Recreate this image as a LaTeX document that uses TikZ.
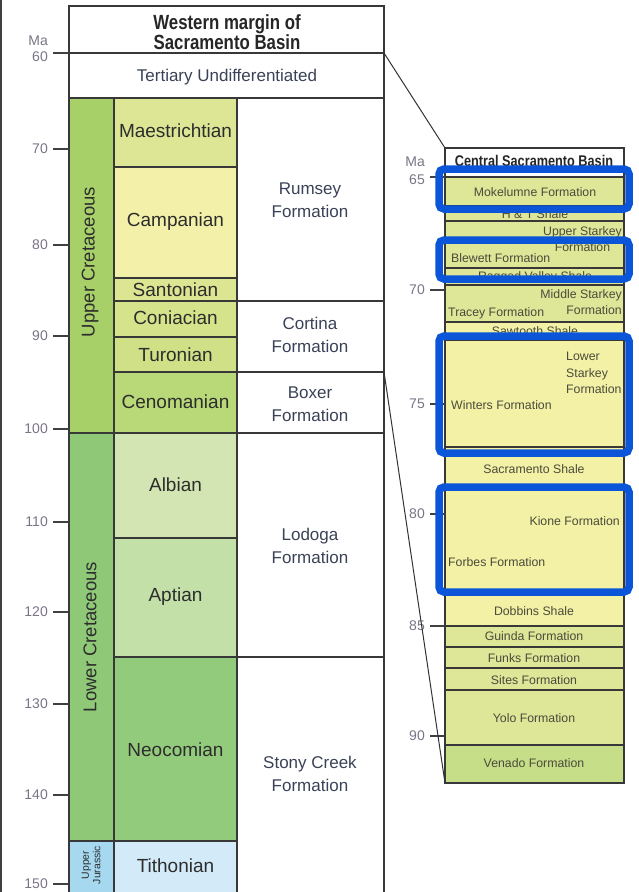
\documentclass[tikz,border=0pt]{standalone}
\usepackage{fontspec}
\setmainfont{Liberation Sans}
\newfontfamily\hdrfont{Liberation Sans}[FakeStretch=0.82]
\definecolor{ucret}{HTML}{A8D068}
\definecolor{lcret}{HTML}{8FC978}
\definecolor{ujur}{HTML}{A6D8F0}
\definecolor{maes}{HTML}{DCE695}
\definecolor{camp}{HTML}{F3F1A9}
\definecolor{sant}{HTML}{DCE591}
\definecolor{coni}{HTML}{D5E38B}
\definecolor{turo}{HTML}{CFE087}
\definecolor{ceno}{HTML}{B9D877}
\definecolor{albi}{HTML}{D2E5B2}
\definecolor{apti}{HTML}{C4E0A9}
\definecolor{neoc}{HTML}{93CB7D}
\definecolor{tith}{HTML}{D3EBF9}
\definecolor{rgy}{HTML}{DEE698}
\definecolor{ryel}{HTML}{F3F1A5}
\definecolor{rven}{HTML}{C6DE88}
\definecolor{hlblue}{HTML}{0A55D8}
\definecolor{tickcol}{HTML}{7A7486}
\definecolor{fmncol}{HTML}{3B4257}
\definecolor{stagecol}{HTML}{2D2D2D}
\definecolor{rcol}{HTML}{4B4B3B}
\newcommand\cellbox[5]{\filldraw[fill=#5, cellline] (#1,#2) rectangle (#3,#4);}
\begin{document}
\begin{tikzpicture}[x=1pt,y=-1pt,
  cellline/.style={draw=black!78, line width=1.1pt},
  tck/.style={draw=black!75, line width=1.2pt},
  tlab/.style={font=\fontsize{14}{14}\selectfont, text=tickcol, anchor=east, inner sep=0},
  hdr/.style={font=\hdrfont\bfseries\fontsize{20.5}{20}\selectfont, align=center, text=black!85, inner sep=0},
  stg/.style={font=\fontsize{19}{22}\selectfont, text=stagecol, inner sep=0},
  fmn/.style={font=\fontsize{17}{22.5}\selectfont, text=fmncol, align=center, inner sep=0},
  era/.style={font=\fontsize{18.5}{20}\selectfont, text=stagecol, rotate=90, inner sep=0},
  erasm/.style={font=\fontsize{10.4}{11.5}\selectfont, text=stagecol, rotate=90, align=center, inner sep=0},
  rlab/.style={font=\fontsize{12.3}{16.5}\selectfont, text=rcol, inner sep=0},
  conn/.style={draw=black!80, line width=1pt},
  hl/.style={draw=hlblue, line width=7.5pt, rounded corners=5pt}]
\useasboundingbox (0,0) rectangle (639,892);
\begin{scope}
\clip (0,0) rectangle (639,892);
\draw[line width=2.5pt, black!75] (1,0) -- (1,892);
% ---------- left column ----------
\cellbox{69}{6}{384}{53}{white}
\cellbox{69}{53}{384}{98}{white}
\cellbox{69}{98}{114}{433}{ucret}
\cellbox{69}{433}{114}{841}{lcret}
\cellbox{69}{841}{114}{900}{ujur}
\cellbox{114}{98}{237}{167}{maes}
\cellbox{114}{167}{237}{278}{camp}
\cellbox{114}{278}{237}{301}{sant}
\cellbox{114}{301}{237}{337}{coni}
\cellbox{114}{337}{237}{372}{turo}
\cellbox{114}{372}{237}{433}{ceno}
\cellbox{114}{433}{237}{538}{albi}
\cellbox{114}{538}{237}{657}{apti}
\cellbox{114}{657}{237}{841}{neoc}
\cellbox{114}{841}{237}{900}{tith}
\cellbox{237}{98}{384}{301}{white}
\cellbox{237}{301}{384}{372}{white}
\cellbox{237}{372}{384}{433}{white}
\cellbox{237}{433}{384}{657}{white}
\cellbox{237}{657}{384}{900}{white}
% left ticks
\foreach \yy in {53,149,245,336,429,522,612,704,795,884}{
  \draw[tck] (53,\yy) -- (69,\yy);}
\node[tlab] (lma) at (48,41) {Ma};
\node[tlab] (l60) at (48,57) {60};
\node[tlab] (l70) at (48,149) {70};
\node[tlab] (l80) at (48,245) {80};
\node[tlab] (l90) at (48,336) {90};
\node[tlab] (l100) at (48,429) {100};
\node[tlab] (l110) at (48,522) {110};
\node[tlab] (l120) at (48,612) {120};
\node[tlab] (l130) at (48,704) {130};
\node[tlab] (l140) at (48,795) {140};
\node[tlab] (l150) at (48,884) {150};
% left texts
\node[hdr] (hW) at (227,32) {Western margin of\\Sacramento Basin};
\node[fmn] (tert) at (227,77) {Tertiary Undifferentiated};
\node[era] (uc) at (90,262) {Upper Cretaceous};
\node[era] (lc) at (90,637) {Lower Cretaceous};
\node[erasm] (uj) at (91,865) {Upper\\Jurassic};
\node[stg] (s1) at (175.5,131) {Maestrichtian};
\node[stg] (s2) at (175.5,222) {Campanian};
\node[stg] (s3) at (175.5,290) {Santonian};
\node[stg] (s4) at (175.5,318) {Coniacian};
\node[stg] (s5) at (175.5,355) {Turonian};
\node[stg] (s6) at (175.5,402) {Cenomanian};
\node[stg] (s7) at (175.5,485) {Albian};
\node[stg] (s8) at (175.5,597) {Aptian};
\node[stg] (s9) at (175.5,750) {Neocomian};
\node[stg] (s10) at (175.5,866) {Tithonian};
\node[fmn] (f1) at (310,200) {Rumsey\\Formation};
\node[fmn] (f2) at (310,335) {Cortina\\Formation};
\node[fmn] (f3) at (310,404) {Boxer\\Formation};
\node[fmn] (f4) at (310,546) {Lodoga\\Formation};
\node[fmn] (f5) at (310,774) {Stony Creek\\Formation};
% ---------- right column ----------
\cellbox{445}{148}{624}{177}{white}
\cellbox{445}{177}{624}{206}{rgy}
\cellbox{445}{206}{624}{221}{rgy}
\cellbox{445}{221}{624}{268}{rgy}
\cellbox{445}{268}{624}{285}{rgy}
\cellbox{445}{285}{624}{322}{rgy}
\cellbox{445}{322}{624}{340}{ryel}
\cellbox{445}{340}{624}{447}{ryel}
\cellbox{445}{447}{624}{488}{ryel}
\cellbox{445}{488}{624}{592}{ryel}
\cellbox{445}{592}{624}{626}{ryel}
\cellbox{445}{626}{624}{647}{rgy}
\cellbox{445}{647}{624}{668}{rgy}
\cellbox{445}{668}{624}{690}{rgy}
\cellbox{445}{690}{624}{745}{rgy}
\cellbox{445}{745}{624}{783}{rven}
\foreach \yy in {177,290,404,514,626,736}{\draw[tck] (430,\yy) -- (445,\yy);}
\node[tlab] (rma) at (425,162) {Ma};
\node[tlab] (r65) at (425,180) {65};
\node[tlab] (r70) at (425,290) {70};
\node[tlab] (r75) at (425,404) {75};
\node[tlab] (r80) at (425,514) {80};
\node[tlab] (r85) at (425,626) {85};
\node[tlab] (r90) at (425,736) {90};
\node[rlab, font=\hdrfont\bfseries\fontsize{15.5}{16}\selectfont, text=black!85] (rhdr) at (534,161) {Central Sacramento Basin};
\node[rlab] (moke) at (535,192) {Mokelumne Formation};
\node[rlab] (ht) at (535,214) {H \& T Shale};
\node[rlab, anchor=east, align=center] (ust) at (622,239) {Upper Starkey\\Formation};
\node[rlab, anchor=west] (blew) at (451,258) {Blewett Formation};
\node[rlab] (rag) at (535,277) {Ragged Valley Shale};
\node[rlab, anchor=east, align=right] (mst) at (622,302) {Middle Starkey\\Formation};
\node[rlab, anchor=west] (trac) at (448,313) {Tracey Formation};
\node[rlab] (saw) at (535,331) {Sawtooth Shale};
\node[rlab, anchor=west, align=left] (lst) at (566,373) {Lower\\Starkey\\Formation};
\node[rlab, anchor=west] (wint) at (451,405) {Winters Formation};
\node[rlab] (sacsh) at (534,469) {Sacramento Shale};
\node[rlab, anchor=east] (kion) at (620,521) {Kione Formation};
\node[rlab, anchor=west] (forb) at (448,562) {Forbes Formation};
\node[rlab] (dobb) at (534,611) {Dobbins Shale};
\node[rlab] (guin) at (534,636) {Guinda Formation};
\node[rlab] (funk) at (534,658) {Funks Formation};
\node[rlab] (site) at (534,680) {Sites Formation};
\node[rlab] (yolo) at (534,718) {Yolo Formation};
\node[rlab] (vena) at (534,763) {Venado Formation};
% ---------- connectors ----------
\coordinate (Lt) at (384,53);
\coordinate (Rt) at (445,148);
\coordinate (Lb) at (384,372);
\coordinate (Rb) at (445,783);
\draw[conn] (Lt) -- (Rt);
\draw[conn] (Lb) -- (Rb);
% ---------- highlight boxes ----------
\draw[hl] (439,169) rectangle (629,209);
\draw[hl] (439,240) rectangle (629,279);
\draw[hl] (439,336) rectangle (629,453);
\draw[hl] (439,487) rectangle (629,592);
\end{scope}
\end{tikzpicture}
\end{document}
